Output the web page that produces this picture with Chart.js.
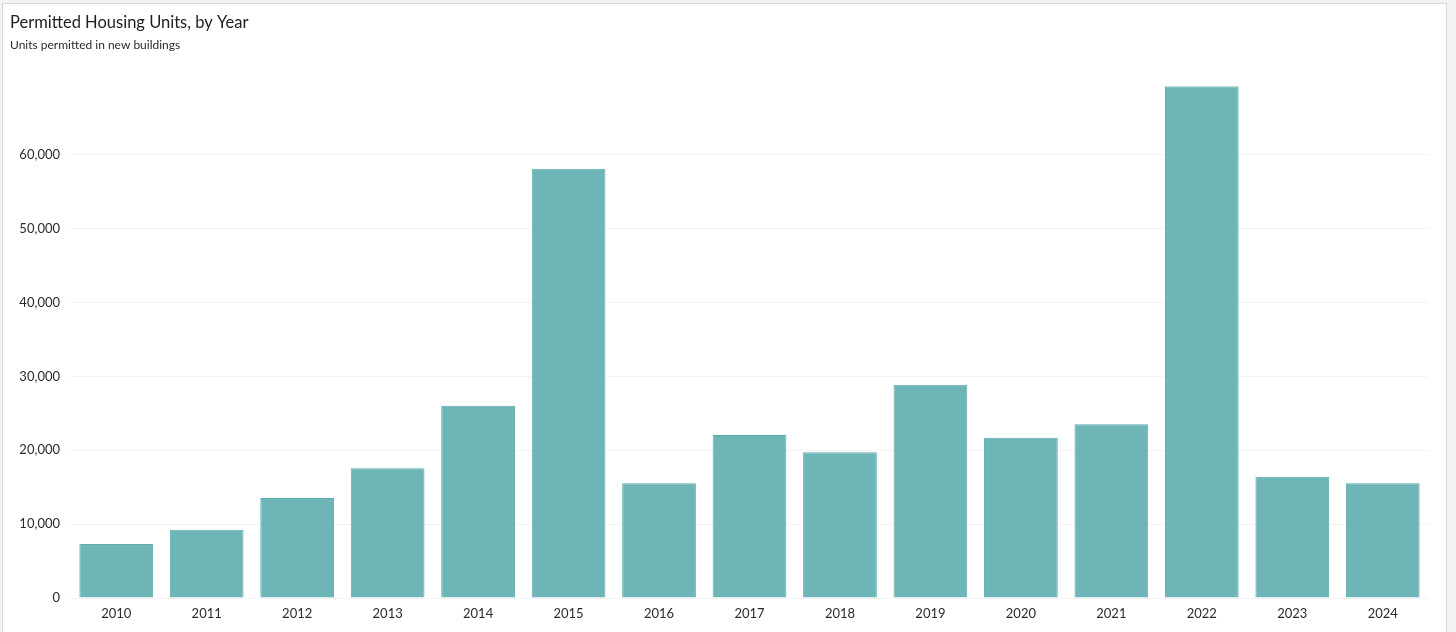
<!DOCTYPE html>
<html>
<head>
<meta charset="utf-8">
<title>Permitted Housing Units, by Year</title>
<script src="https://cdn.jsdelivr.net/npm/chart.js@4"></script>
<style>
    html, body { margin: 0; padding: 0; background: #f3f3f3; overflow: hidden; }
    #card {
        position: absolute;
        left: 2px;
        top: 3px;
        width: 1443px;
        height: 640px;
        border: 1px solid #d6d6d6;
        background: #ffffff;
    }
    #myChart { display: block; }
</style>
</head>
<body>
<div id="card">
    <canvas id="myChart" width="1443" height="628"></canvas>
</div>
<script>
const years = [ '2010', '2011', '2012', '2013', '2014', '2015', '2016', '2017', '2018', '2019', '2020', '2021', '2022', '2023', '2024' ];
const permittedUnits = [ 7300, 9250, 13550, 17580, 26020, 58090, 15540, 22050, 19740, 28860, 21680, 23530, 69280, 16400, 15540 ];
const yTicks = [ 0, 10000, 20000, 30000, 40000, 50000, 60000 ];

const ctx = document.getElementById( 'myChart' );
const fontFamily = 'Lato, "Noto Sans", sans-serif';

new Chart( ctx, {
    type: 'bar',
    data: {
        labels: years,
        datasets: [ {
            label: 'Units permitted',
            data: permittedUnits,
            backgroundColor: '#6db5b7',
            borderColor: '#5eacae',
            borderWidth: 1,
            categoryPercentage: 1,
            barPercentage: 0.815
        } ]
    },
    options: {
        responsive: false,
        animation: false,
        layout: {
            padding: { left: 7, right: 18, top: 0, bottom: 0 }
        },
        scales: {
            x: {
                grid: { display: false, drawTicks: false },
                border: { display: false },
                ticks: {
                    padding: 8,
                    color: '#2b2b2b',
                    font: { family: fontFamily, size: 13 }
                },
                afterFit: ( scale ) => { scale.height = 34; }
            },
            y: {
                min: 0,
                max: Math.max( ...permittedUnits ),
                grid: { color: '#f3f3f3', drawTicks: false },
                border: { display: false },
                ticks: {
                    stepSize: 10000,
                    includeBounds: false,
                    padding: 11,
                    color: '#2b2b2b',
                    font: { family: fontFamily, size: 13 },
                    callback: ( value ) => value.toLocaleString( 'en-US' )
                },
                afterBuildTicks: ( scale ) => {
                    scale.ticks = yTicks.map( ( v ) => ( { value: v } ) );
                },
                afterFit: ( scale ) => { scale.width = 61; }
            }
        },
        plugins: {
            legend: { display: false },
            tooltip: { enabled: false },
            title: {
                display: true,
                text: 'Permitted Housing Units, by Year',
                align: 'start',
                color: '#1e1e1e',
                font: { family: fontFamily, size: 16.5, weight: 'normal', lineHeight: 1.2 },
                padding: { top: 9, bottom: 2 }
            },
            subtitle: {
                display: true,
                text: 'Units permitted in new buildings',
                align: 'start',
                color: '#2b2b2b',
                font: { family: fontFamily, size: 12, weight: 'normal', lineHeight: 1.2 },
                padding: { top: 3, bottom: 34 }
            }
        }
    }
} );
</script>
</body>
</html>
